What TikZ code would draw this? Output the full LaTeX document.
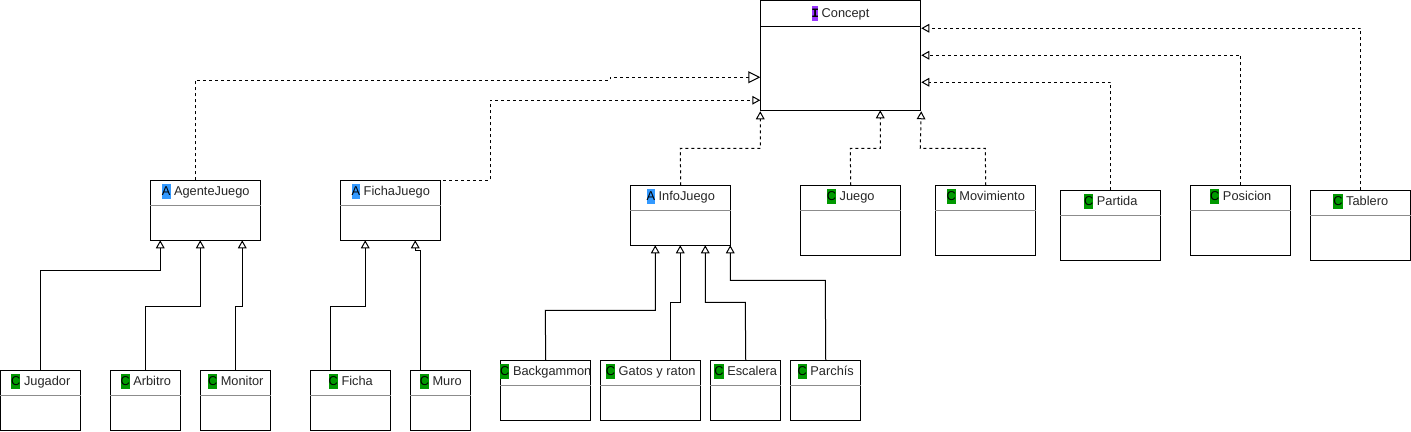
\documentclass[tikz,border=0pt]{standalone}
\usepackage{fontspec}
\setmainfont{Liberation Sans}
\newfontfamily\ifacefont{Liberation Mono}
\usetikzlibrary{arrows.meta}
\definecolor{classgreen}{HTML}{009900}
\definecolor{absblue}{HTML}{3399FF}
\definecolor{ifacepurple}{HTML}{9933FF}
\tikzset{
    classnode/.style={draw=black,line width=0.75pt,fill=white,anchor=north west,inner sep=0pt},
    classtitle/.style={font=\fontsize{9.6}{11}\selectfont,text=black!85,inner sep=0pt,text height=7.5pt,text depth=2.5pt},
    divider/.style={line width=0.75pt,black!45},
    inherit/.style={line width=0.75pt,-{Triangle[open,fill=white,length=6pt,width=6.5pt]}},
    realize/.style={inherit,dash pattern=on 2.25pt off 2.25pt},
    bigrealize/.style={line width=0.75pt,dash pattern=on 2.25pt off 2.25pt,-{Triangle[open,fill=white,length=9pt,width=9pt]}}
}
\setlength{\fboxsep}{0pt}
\newcommand{\badge}[2]{\colorbox{#1}{\rule[-2.4pt]{0pt}{11pt}\textcolor{black}{#2}}}
% {name}{corner}{width}{height}{badge colour}{letter}{title}
\newcommand{\classbox}[7]{
    \node[classnode,minimum width=#3*0.75pt,minimum height=#4*0.75pt] (#1) at (#2) {};
    \node[classtitle] (#1-title) at ([yshift=-8.8pt]#1.north) {\badge{#5}{#6} #7};
    \draw[divider] ([yshift=-18.75pt]#1.north west) -- ([yshift=-18.75pt]#1.north east);
}
\begin{document}
\begin{tikzpicture}[x=0.75pt,y=-0.75pt]
    \useasboundingbox (0.25,0.25) rectangle (1411.25,432.25);
    % interface
    \node[classnode,minimum width=120pt,minimum height=82.5pt] (concept) at (760.5,0.5) {};
    \node[classtitle] (concept-title) at ([yshift=-10.4pt]concept.north) {\badge{ifacepurple}{\ifacefont\bfseries\kern-0.6pt I\kern-0.6pt} Concept};
    \draw[line width=0.75pt] ([yshift=-19.5pt]concept.north west) -- ([yshift=-19.5pt]concept.north east);
    % abstract classes
    \classbox{agente}{150.5,180.5}{110}{60}{absblue}{A}{AgenteJuego}
    \classbox{fichajuego}{340.5,180.5}{100}{60}{absblue}{A}{FichaJuego}
    \classbox{info}{630.5,185.5}{100}{60}{absblue}{A}{InfoJuego}
    % classes under concept
    \classbox{juego}{800.5,185.5}{100}{70}{classgreen}{C}{Juego}
    \classbox{movimiento}{935.5,185.5}{100}{70}{classgreen}{C}{Movimiento}
    \classbox{partida}{1060.5,190.5}{100}{70}{classgreen}{C}{Partida}
    \classbox{posicion}{1190.5,185.5}{100}{70}{classgreen}{C}{Posicion}
    \classbox{tablero}{1310.5,190.5}{100}{70}{classgreen}{C}{Tablero}
    % bottom row
    \classbox{jugador}{0.5,370.5}{80}{60}{classgreen}{C}{Jugador}
    \classbox{arbitro}{110.5,370.5}{70}{60}{classgreen}{C}{Arbitro}
    \classbox{monitor}{200.5,370.5}{70}{60}{classgreen}{C}{Monitor}
    \classbox{ficha}{310.5,370.5}{80}{60}{classgreen}{C}{Ficha}
    \classbox{muro}{410.5,370.5}{60}{60}{classgreen}{C}{Muro}
    \classbox{backgammon}{500.5,360.5}{90}{60}{classgreen}{C}{Backgammon}
    \classbox{gatos}{600.5,360.5}{100}{60}{classgreen}{C}{Gatos y raton}
    \classbox{escalera}{710.5,360.5}{70}{60}{classgreen}{C}{Escalera}
    \classbox{parchis}{790.5,360.5}{70}{60}{classgreen}{C}{Parchís}
    % dashed arrows to concept
    \draw[bigrealize] (agente.north -| 195.5,0) -- (195.5,80.5) -- (610.5,80.5) -- (610.5,77.5) -- (concept.west |- 0,77.5);
    \draw[realize] (fichajuego.north east) ++(2,0) -- (490.5,180.5) -- (490.5,100.5) -- (concept.west |- 0,100.5);
    \draw[realize] (info.north) -- (680.5,148.5) -- (760.5,148.5) -- (concept.south west);
    \draw[realize] (juego.north) -- (850.5,148.5) -- (880.5,148.5) -- (880.5,110.5);
    \draw[realize] (movimiento.north) -- (985.5,148.5) -- (920.5,148.5) -- (concept.south east);
    \draw[realize] (partida.north) |- (concept.east |- 0,82.5);
    \draw[realize] (posicion.north) |- (concept.east |- 0,55.5);
    \draw[realize] (tablero.north) |- (concept.east |- 0,28.5);
    % inheritance
    \draw[inherit] (jugador.north -| 40.5,0) -- (40.5,270.5) -- (160.5,270.5) -- (160.5,240.5);
    \draw[inherit] (arbitro.north -| 145.5,0) -- (145.5,306.5) -- (200.5,306.5) -- (200.5,240.5);
    \draw[inherit] (monitor.north -| 235.5,0) -- (235.5,306.5) -- (242.5,306.5) -- (242.5,240.5);
    \draw[inherit] (ficha.north -| 330.5,0) -- (330.5,306.5) -- (365.5,306.5) -- (365.5,240.5);
    \draw[inherit] (muro.north -| 420.5,0) -- (420.5,250.5) -- (415.5,250.5) -- (415.5,240.5);
    \draw[inherit] (backgammon.north) -- (545.5,310.5) -- (655.5,310.5) -- (655.5,245.5);
    \draw[inherit] (gatos.north -| 670.5,0) -- (670.5,302.5) -- (680.5,302.5) -- (680.5,245.5);
    \draw[inherit] (escalera.north) -- (745.5,302.5) -- (705.5,302.5) -- (705.5,245.5);
    \draw[inherit] (parchis.north) -- (825.5,280.5) -- (730.5,280.5) -- (730.5,245.5);
\end{tikzpicture}
\end{document}
